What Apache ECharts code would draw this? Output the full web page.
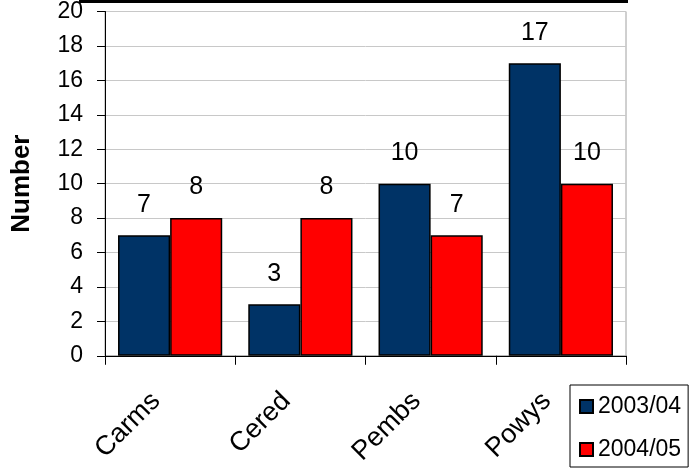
<!DOCTYPE html>
<html>
<head>
<meta charset="utf-8">
<script src="https://cdn.jsdelivr.net/npm/echarts@6/dist/echarts.min.js"></script>
<style>html,body{margin:0;padding:0;background:#fff}#c{width:699px;height:468px}</style>
</head>
<body>
<div id="c"></div>
<script>
var categories = ['Carms', 'Cered', 'Pembs', 'Powys'];
var seriesNames = ['2003/04', '2004/05'];
var values2003 = [7, 3, 10, 17];
var values2004 = [8, 8, 7, 10];
var yTicks = [0, 2, 4, 6, 8, 10, 12, 14, 16, 18, 20];

var FONT = 'Liberation Sans, Arial, sans-serif';
var chart = echarts.init(document.getElementById('c'), null, {renderer: 'canvas'});
var labelOpt = {show: true, position: 'top', distance: 18, color: '#000', fontSize: 25, fontFamily: FONT};
chart.setOption({
  animation: false,
  textStyle: {fontFamily: FONT},
  grid: {left: 105, right: 73, top: 11, bottom: 111, show: true, borderColor: '#a0a0a0', borderWidth: 1, backgroundColor: 'transparent'},
  graphic: [{type: 'rect', shape: {x: 79, y: 0, width: 549, height: 3}, style: {fill: '#000'}}],
  legend: {
    orient: 'vertical', left: 570, top: 385,
    padding: [10, 7, 6, 9], itemGap: 20, itemWidth: 13, itemHeight: 13, itemTextGap: 9,
    borderColor: '#000', borderWidth: 1, icon: 'rect',
    textStyle: {fontSize: 23, color: '#000', fontFamily: FONT},
    data: seriesNames
  },
  xAxis: {
    type: 'category', data: categories,
    axisLine: {lineStyle: {color: '#000', width: 1}},
    axisTick: {show: true, length: 9, lineStyle: {color: '#000'}},
    axisLabel: {rotate: 45, fontSize: 27, color: '#000', margin: 27, padding: [0, 20, 0, 0], fontFamily: FONT}
  },
  yAxis: {
    type: 'value', min: yTicks[0], max: yTicks[yTicks.length - 1], interval: 2,
    name: 'Number', nameLocation: 'middle', nameGap: 70, nameRotate: 90,
    nameTextStyle: {fontSize: 26, fontWeight: 'bold', color: '#000', fontFamily: FONT},
    axisLine: {show: true, lineStyle: {color: '#000', width: 1}},
    axisTick: {show: true, length: 8, lineStyle: {color: '#000'}},
    axisLabel: {fontSize: 23, color: '#000', margin: 22, fontFamily: FONT},
    splitLine: {lineStyle: {color: '#c8c8c8', width: 1}}
  },
  series: [
    {name: seriesNames[0], type: 'bar', data: values2003, barGap: '0%', barCategoryGap: '20%',
     itemStyle: {color: '#003366', borderColor: '#000', borderWidth: 1.5}, label: labelOpt},
    {name: seriesNames[1], type: 'bar', data: values2004, barGap: '0%', barCategoryGap: '20%',
     itemStyle: {color: '#ff0000', borderColor: '#000', borderWidth: 1.5}, label: labelOpt}
  ]
});
</script>
</body>
</html>
